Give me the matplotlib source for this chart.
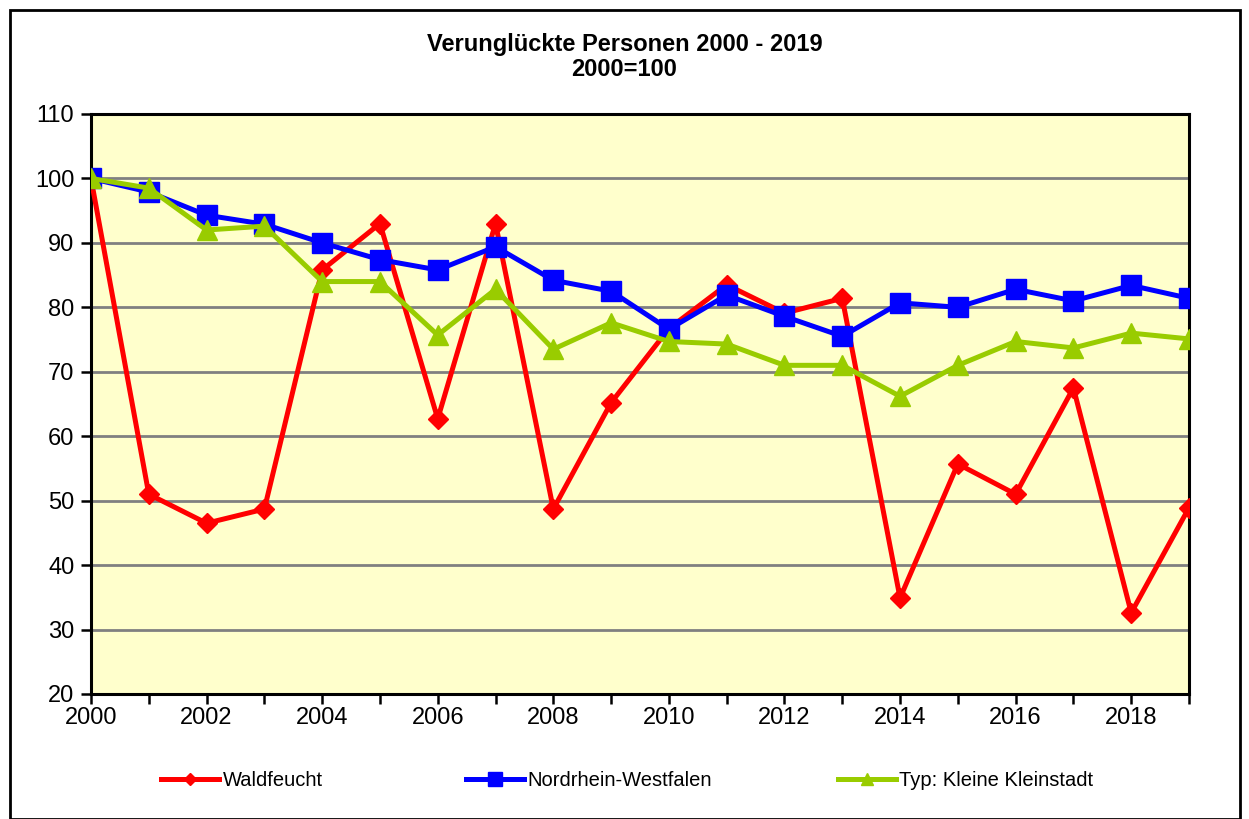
import matplotlib
matplotlib.use("Agg")
import matplotlib.pyplot as plt
from matplotlib.patches import Rectangle

years = list(range(2000, 2020))
waldfeucht = [100, 51.0, 46.5, 48.7, 85.8, 93.0, 62.7, 93.0, 48.7, 65.2,
              76.7, 83.5, 79.1, 81.4, 34.9, 55.7, 51.0, 67.5, 32.6, 48.9]
nrw = [100, 97.9, 94.3, 92.9, 90.0, 87.4, 85.8, 89.4, 84.2, 82.5,
       76.6, 81.9, 78.6, 75.5, 80.7, 80.0, 82.8, 81.0, 83.4, 81.4]
kleinstadt = [100, 98.5, 92.0, 92.6, 84.0, 84.0, 75.7, 82.8, 73.5, 77.6,
              74.7, 74.3, 71.0, 71.0, 66.2, 71.0, 74.7, 73.7, 76.0, 75.1]
labels = ["Waldfeucht", "Nordrhein-Westfalen", "Typ: Kleine Kleinstadt"]
title = "Verunglückte Personen 2000 - 2019\n2000=100"

plt.rcParams['font.family'] = ['Liberation Sans', 'DejaVu Sans']

fig = plt.figure(figsize=(12.49, 8.19), dpi=100)
ax = fig.add_axes([91/1249, 1-694/819, (1189-91)/1249, (694-114)/819])
ax.set_facecolor('#FFFFCC')

l1, = ax.plot(years, waldfeucht, color='#FF0000', lw=3.6, marker='D', ms=10, label=labels[0], zorder=3)
l2, = ax.plot(years, nrw, color='#0000FF', lw=3.6, marker='s', ms=14.5, label=labels[1], zorder=4)
l3, = ax.plot(years, kleinstadt, color='#99CC00', lw=3.6, marker='^', ms=14, label=labels[2], zorder=5)

ax.set_xlim(2000, 2019)
ax.set_ylim(20, 110)
ax.set_yticks(range(20, 111, 10))
ax.set_xticks(range(2000, 2020, 2))
ax.set_xticks(range(2000, 2020), minor=True)
ax.grid(axis='y', color='#808080', lw=2)
ax.set_axisbelow(True)
for s in ax.spines.values():
    s.set_linewidth(2.2)
    s.set_color('black')
ax.tick_params(axis='both', which='both', direction='out', width=1.8, length=7, labelsize=17)
ax.tick_params(axis='x', which='minor', labelbottom=False)
ax.tick_params(axis='x', pad=2)
ax.tick_params(axis='y', pad=5)

fig.text(0.5, 1-57/819, title, ha='center', va='center', fontsize=17, fontweight='bold', linespacing=1.1)

xs = [161, 466, 838]
for h, lab, x in zip([l1, l2, l3], labels, xs):
    fig.legend([h], [lab], loc='center left', bbox_to_anchor=(x/1249, 1-781/819), frameon=False,
               fontsize=14.5, handlelength=2.9, handletextpad=0.15, borderpad=0, borderaxespad=0,
               markerscale=0.65)

fig.add_artist(Rectangle((10/1249, 0), (1240-10)/1249, 1-10/819, transform=fig.transFigure,
                         fill=False, edgecolor='black', lw=2))

fig.savefig('out.png', dpi=100)
